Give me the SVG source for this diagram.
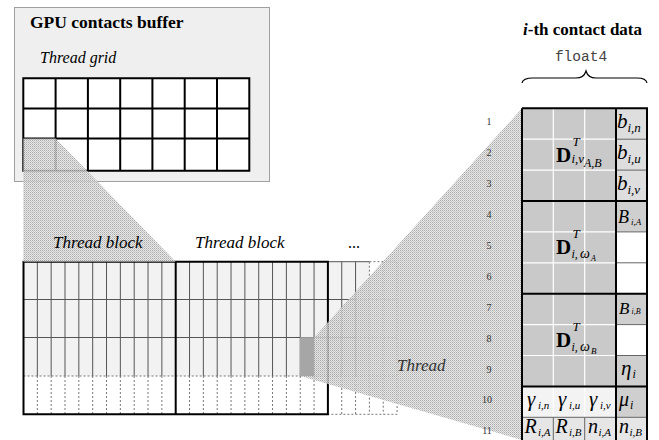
<svg xmlns="http://www.w3.org/2000/svg" width="659" height="440" viewBox="0 0 659 440" font-family="'Liberation Serif', 'Times New Roman', serif">
<defs>
<pattern id="dither" width="2" height="2" patternUnits="userSpaceOnUse">
<rect width="2" height="2" fill="#e4e4e4"/>
<rect width="1" height="1" fill="#9c9c9c"/>
<rect x="1" y="1" width="1" height="1" fill="#bcbcbc"/>
</pattern>
<style>
text{font-family:'Liberation Serif','Times New Roman',serif;fill:#000}
.it{font-style:italic}
.b{font-weight:bold}
.gl{stroke:#000;stroke-width:2;fill:none}
.thin{stroke:#555;stroke-width:1;fill:none}
.dash{stroke:#777;stroke-width:1;fill:none;stroke-dasharray:2,2}
.bk{stroke:#000;stroke-width:2;fill:none}
.shade{fill:url(#dither);opacity:0.85}
.num{font-size:10px;fill:#333;text-anchor:middle}
.wl{stroke:#fff;stroke-width:1.2;fill:none}
.gs{stroke:#666;stroke-width:1;fill:none}
.tk{stroke:#000;stroke-width:2;fill:none}
.mono{font-family:'Liberation Mono','Courier New',monospace;fill:#444}
</style>
</defs>
<rect width="659" height="440" fill="#fff"/>

<g id="buffer">
<rect x="14.5" y="7.5" width="255" height="174" fill="#efefef" stroke="#a0a0a0" stroke-width="1"/>
<text class="b" x="30" y="27.5" font-size="17.5">GPU contacts buffer</text>
<text class="it" x="40" y="63.3" font-size="16">Thread grid</text>
<rect x="23.3" y="78.3" width="226" height="92.4" fill="#fff"/>
<path class="gl" d="M23.3,78.3H249.3V170.7H23.3Z M23.3,108.5H249.3 M23.3,138.5H249.3 M55.6,78.3V170.7 M87.9,78.3V170.7 M120.2,78.3V170.7 M152.4,78.3V170.7 M184.7,78.3V170.7 M217,78.3V170.7"/>
</g>

<g id="thread-block-1">
<rect x="23.5" y="261.7" width="152.2" height="114.3" fill="#f2f2f2"/>
<path class="thin" d="M23.5,299.5H175.7 M23.5,337.5H175.7 M37.34,261.7V376 M51.17,261.7V376 M65.01,261.7V376 M78.84,261.7V376 M92.68,261.7V376 M106.52,261.7V376 M120.35,261.7V376 M134.19,261.7V376 M148.02,261.7V376 M161.86,261.7V376"/>
<path class="dash" d="M23.5,376H175.7 M37.34,376V414.3 M51.17,376V414.3 M65.01,376V414.3 M78.84,376V414.3 M92.68,376V414.3 M106.52,376V414.3 M120.35,376V414.3 M134.19,376V414.3 M148.02,376V414.3 M161.86,376V414.3"/>
</g>
<g id="thread-block-2">
<rect x="175.7" y="261.7" width="152.2" height="114.3" fill="#f2f2f2"/>
<path class="thin" d="M175.7,299.5H327.9 M175.7,337.5H327.9 M189.54,261.7V376 M203.37,261.7V376 M217.21,261.7V376 M231.04,261.7V376 M244.88,261.7V376 M258.72,261.7V376 M272.55,261.7V376 M286.39,261.7V376 M300.22,261.7V376 M314.06,261.7V376"/>
<path class="dash" d="M175.7,376H327.9 M189.54,376V414.3 M203.37,376V414.3 M217.21,376V414.3 M231.04,376V414.3 M244.88,376V414.3 M258.72,376V414.3 M272.55,376V414.3 M286.39,376V414.3 M300.22,376V414.3 M314.06,376V414.3"/>
</g>
<g id="thread-block-3">
<rect x="327.9" y="261.7" width="41.5" height="114.3" fill="#f2f2f2"/>
<path class="thin" d="M327.9,261.7H369.4 M341.74,261.7V376 M355.57,261.7V376 M327.9,299.5H355.57 M327.9,337.5H355.57"/>
<path class="dash" d="M369.4,261.7H397.1V414.3H327.9 M355.57,299.5H397.1 M355.57,337.5H397.1 M327.9,376H397.1 M341.74,376V414.3 M355.57,376V414.3 M369.4,261.7V414.3 M383.24,261.7V414.3"/>
<text x="354" y="248" font-size="16" text-anchor="middle">...</text>
</g>
<g id="block-borders">
<path class="bk" d="M23.5,261.7H327.9V414.3H23.5Z M175.7,261.7V414.3"/>
</g>

<g id="connectors">
<polygon class="shade" points="23.3,138.5 55.6,138.5 175.7,261.7 23.3,261.7"/>
<polygon class="shade" points="300.22,337.5 314.06,337.5 522,108.3 522,440 300.22,376"/>
</g>

<g id="thread">
<rect x="300.22" y="337.5" width="13.84" height="38.5" fill="#a6a6a6"/>
<text class="it" x="397" y="371" font-size="17" style="fill:#333">Thread</text>
</g>
<g id="block-labels">
<text class="it" x="53" y="248.3" font-size="17">Thread block</text>
<text class="it" x="195" y="248.3" font-size="17">Thread block</text>
</g>

<g id="contact-header">
<text class="b" x="523" y="35" font-size="17"><tspan class="it">i</tspan>-th contact data</text>
<text class="mono" x="581" y="61" font-size="14.5" text-anchor="middle">float4</text>
<path d="M522,83 Q523,78 533,78 L576,78 Q584,78 586,71 Q588,78 596,78 L637,78 Q646,78 647,83" fill="none" stroke="#000" stroke-width="1.2"/>
</g>

<g id="contact-table">
<rect x="522" y="108.3" width="94" height="278.1" fill="#c9c9c9"/>
<rect x="616" y="108.3" width="31" height="92.7" fill="#dedede"/>
<rect x="616" y="201" width="31" height="30.9" fill="#cfcfcf"/>
<rect x="616" y="231.9" width="31" height="61.8" fill="#fff"/>
<rect x="616" y="293.7" width="31" height="30.9" fill="#cfcfcf"/>
<rect x="616" y="324.6" width="31" height="30.9" fill="#fff"/>
<rect x="616" y="355.5" width="31" height="61.8" fill="#cfcfcf"/>
<rect x="522" y="386.4" width="94" height="30.9" fill="#f3f3f3"/>
<rect x="522" y="417.3" width="125" height="31" fill="#e6e6e6"/>
<path class="wl" d="M522,139.2H616 M522,170.1H616 M522,231.9H616 M522,262.8H616 M522,324.6H616 M522,355.5H616 M553.3,108.3V417.3 M584.7,108.3V417.3"/>
<path class="gs" d="M616,139.2H647 M616,170.1H647 M616,231.9H647 M616,262.8H647 M616,324.6H647 M616,355.5H647 M522,417.3H647 M553.3,417.3V448 M584.7,417.3V448"/>
<path class="tk" d="M522,108.3H647V448 M522,108.3V448 M522,201H647 M522,293.7H647 M522,386.4H647 M616,108.3V448"/>

<text class="b" x="556" y="162" font-size="21">D</text>
<text class="it" x="572.5" y="146" font-size="13">T</text>
<text class="it" x="571.5" y="163" font-size="13">i,v</text>
<text class="it" x="584" y="167" font-size="12">A,B</text>

<text class="b" x="556" y="254" font-size="21">D</text>
<text class="it" x="572.5" y="238" font-size="13">T</text>
<text class="it" x="571.5" y="258" font-size="12">i,</text>
<text class="it" x="580" y="258" font-size="14">ω</text>
<text class="it" x="591" y="260.5" font-size="8">A</text>

<text class="b" x="556" y="346.5" font-size="21">D</text>
<text class="it" x="572.5" y="330.5" font-size="13">T</text>
<text class="it" x="571.5" y="351" font-size="12">i,</text>
<text class="it" x="580" y="351" font-size="14">ω</text>
<text class="it" x="591" y="353.5" font-size="9">B</text>

<text class="it" x="617" y="128" font-size="21">b</text><text class="it" x="627.5" y="131.5" font-size="13">i,n</text>
<text class="it" x="617" y="159" font-size="21">b</text><text class="it" x="627.5" y="162.5" font-size="13">i,u</text>
<text class="it" x="617" y="190" font-size="21">b</text><text class="it" x="627.5" y="193.5" font-size="13">i,v</text>

<text class="it" x="618" y="223" font-size="18">B</text><text class="it" x="631" y="224.5" font-size="9">i,A</text>
<text class="it" x="619" y="314" font-size="17">B</text><text class="it" x="631.5" y="314" font-size="8">i,B</text>
<text class="it" x="621" y="375" font-size="21">η</text><text class="it" x="632.5" y="378" font-size="12">i</text>

<text class="it" x="527" y="406" font-size="21">γ</text><text class="it" x="538" y="408.5" font-size="11">i,n</text>
<text class="it" x="558" y="406" font-size="21">γ</text><text class="it" x="569" y="408.5" font-size="11">i,u</text>
<text class="it" x="589" y="406" font-size="21">γ</text><text class="it" x="600" y="408.5" font-size="11">i,v</text>
<text class="it" x="619" y="406" font-size="20">μ</text><text class="it" x="630" y="408.5" font-size="12">i</text>

<text class="it" x="524.5" y="433" font-size="20">R</text><text class="it" x="538" y="436" font-size="11">i,A</text>
<text class="it" x="555.5" y="433" font-size="20">R</text><text class="it" x="569" y="436" font-size="11">i,B</text>
<text class="it" x="588" y="433" font-size="20">n</text><text class="it" x="598.5" y="436" font-size="11">i,A</text>
<text class="it" x="619" y="433" font-size="20">n</text><text class="it" x="629.5" y="436" font-size="11">i,B</text>
</g>

<g id="row-numbers">
<text class="num" x="489" y="125">1</text>
<text class="num" x="489" y="156">2</text>
<text class="num" x="489" y="187">3</text>
<text class="num" x="489" y="218">4</text>
<text class="num" x="489" y="249">5</text>
<text class="num" x="489" y="280">6</text>
<text class="num" x="489" y="310.5">7</text>
<text class="num" x="489" y="341.5">8</text>
<text class="num" x="489" y="372.5">9</text>
<text class="num" x="487" y="403">10</text>
<text class="num" x="487" y="434">11</text>
</g>
</svg>
